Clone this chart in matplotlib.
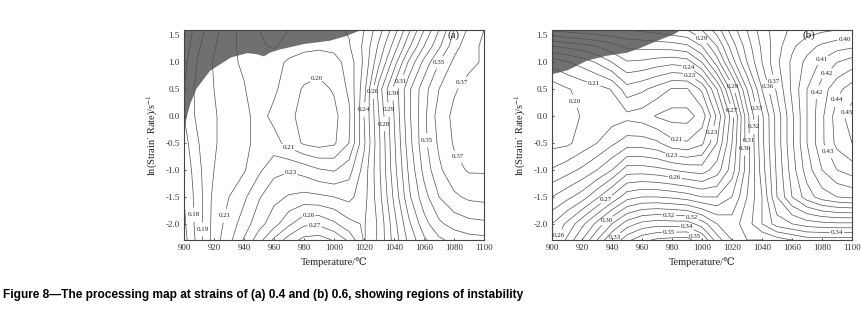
import matplotlib
matplotlib.use("Agg")
import matplotlib.pyplot as plt
import numpy as np

# grid (efficiency values)
temps = [900, 910, 920, 930, 940, 950, 960, 970, 980, 990, 1000,
         1010, 1020, 1030, 1040, 1050, 1060, 1070, 1080, 1090, 1100]
rates = [-2.3, -2.0, -1.5, -1.0, -0.5, 0.0, 0.5, 1.0, 1.3, 1.6]

eff_a = [
    [.166, .185, .205, .217, .231, .246, .262, .275, .283, .285, .279, .268, .249, .262, .284, .303, .318, .328, .333, .336, .337],
    [.168, .186, .204, .214, .225, .236, .246, .258, .268, .268, .262, .253, .249, .262, .286, .308, .326, .338, .344, .347, .348],
    [.170, .186, .203, .210, .218, .229, .237, .241, .243, .242, .240, .237, .246, .266, .292, .318, .336, .350, .358, .362, .363],
    [.172, .188, .200, .205, .209, .218, .227, .229, .226, .221, .219, .226, .244, .268, .296, .322, .343, .358, .367, .371, .371],
    [.176, .190, .199, .204, .206, .215, .214, .206, .1985, .196, .1985, .210, .238, .268, .298, .326, .347, .362, .371, .376, .377],
    [.180, .194, .199, .204, .207, .214, .207, .202, .197, .195, .197, .208, .240, .270, .300, .328, .347, .365, .372, .375, .375],
    [.180, .195, .200, .204, .209, .218, .212, .204, .199, .197, .201, .212, .236, .275, .303, .328, .346, .360, .369, .373, .374],
    [.177, .192, .201, .207, .212, .218, .214, .208, .205, .204, .206, .214, .232, .258, .285, .312, .333, .350, .362, .368, .371],
    [.174, .189, .199, .207, .213, .219, .221, .216, .213, .212, .213, .219, .232, .252, .274, .298, .320, .338, .356, .366, .372],
    [.172, .186, .197, .206, .214, .220, .222, .220, .218, .217, .218, .221, .230, .246, .265, .288, .310, .330, .350, .362, .370],
]

eff_b = [
    [.255, .272, .290, .310, .330, .347, .357, .362, .364, .365, .350, .325, .310, .310, .310, .315, .320, .325, .325, .325, .325],
    [.250, .262, .277, .293, .310, .325, .333, .336, .335, .335, .325, .310, .305, .315, .330, .345, .350, .355, .357, .358, .358],
    [.230, .237, .245, .258, .272, .286, .290, .290, .288, .285, .280, .280, .290, .310, .330, .360, .380, .395, .405, .410, .412],
    [.211, .216, .222, .230, .240, .255, .255, .253, .250, .247, .245, .255, .275, .305, .335, .362, .385, .405, .420, .430, .435],
    [.197, .198, .204, .210, .218, .225, .225, .222, .213, .211, .218, .240, .270, .305, .337, .364, .388, .410, .428, .443, .450],
    [.193, .197, .2005, .203, .205, .207, .205, .199, .196, .196, .204, .232, .265, .306, .338, .364, .388, .410, .428, .445, .455],
    [.194, .199, .203, .206, .2105, .226, .222, .216, .209, .209, .222, .250, .285, .320, .350, .372, .392, .410, .425, .437, .445],
    [.214, .219, .224, .231, .240, .249, .248, .245, .243, .245, .260, .285, .315, .340, .360, .378, .392, .403, .412, .420, .425],
    [.240, .243, .246, .250, .256, .262, .263, .264, .265, .268, .280, .300, .325, .345, .362, .376, .388, .396, .402, .406, .408],
    [.272, .274, .276, .278, .279, .280, .282, .284, .287, .290, .300, .315, .335, .350, .365, .375, .382, .386, .388, .390, .390],
]

# instability domains (lower edge of the shaded region)
unstable_a_temp = [900, 902, 904, 908, 917, 931, 942, 948, 953, 957, 964, 980, 997, 1008, 1017]
unstable_a_rate = [-0.22, 0.05, 0.25, 0.52, 0.85, 1.10, 1.18, 1.16, 1.12, 1.19, 1.25, 1.35, 1.41, 1.50, 1.60]
unstable_b_temp = [900, 910, 923, 936, 950, 959, 970, 981, 985]
unstable_b_rate = [0.79, 0.86, 1.04, 1.13, 1.19, 1.28, 1.41, 1.53, 1.60]

levels_a = np.round(np.arange(0.17, 0.375, 0.01), 2)
levels_b = np.round(np.arange(0.20, 0.455, 0.01), 2)

labels_a = [(988, 0.73), (970, -0.57), (972, -0.95), (983, -1.75), (987, -2.05),
            (906, -1.83), (915, -2.1), (924, -1.83), (1019, 0.12), (1025, 0.45),
            (1039, 0.42), (1045, 0.64), (1036, 0.12), (1032, -0.15), (1070, 1.0),
            (1060, -0.45), (1083, -0.75), (1097, 0.4)]
labels_b = [(1000, 1.45), (992, 0.95), (991, 0.73), (928, 0.62), (904, 0.17),
            (984, -0.33), (1005, -0.3), (980, -0.75), (982, -1.1), (935, -1.5),
            (978, -1.85), (993, -1.9), (937, -1.95), (990, -2.05), (903, -2.2),
            (942, -2.25), (978, -2.2), (995, -2.25), (1020, 0.55), (1020, 0.1),
            (1037, 0.15), (1035, -0.2), (1033, -0.45), (1030, -0.6), (1045, 0.55),
            (1050, 0.65), (1095, 1.5), (1080, 1.05), (1083, 0.8), (1075, 0.45),
            (1090, 0.3), (1095, 0.1), (1085, -0.65), (1090, -2.2)]

plt.rcParams['font.family'] = ['Liberation Serif', 'DejaVu Serif']
plt.rcParams['mathtext.fontset'] = 'stix'
plt.rcParams['axes.unicode_minus'] = False

fig = plt.figure(figsize=(8.62, 3.10), dpi=100)
ax_a = fig.add_axes([184 / 862, 70 / 310, 300 / 862, 210 / 310])
ax_b = fig.add_axes([552 / 862, 70 / 310, 300 / 862, 210 / 310])


def draw_map(ax, eff, levels, gray_t, gray_r, label_pos, tag, tag_x):
    ax.fill_between(gray_t, gray_r, 1.6, color='#707070', lw=0, zorder=1)
    cs = ax.contour(temps, rates, eff, levels=levels, colors='#505050',
                    linewidths=0.5, zorder=2)
    ax.clabel(cs, fmt='%.2f', fontsize=5, manual=label_pos,
              inline=True, inline_spacing=1)
    for t in cs.labelTexts:
        t.set_rotation(0)
        t.set_color('#222222')
    ax.text(tag_x, 1.5, tag, fontsize=8, ha='center', va='center', color='#222222')

    ax.set_xlim(900, 1100)
    ax.set_ylim(-2.3, 1.6)
    ax.set_xticks(range(900, 1101, 20))
    yt = [-2.0, -1.5, -1.0, -0.5, 0.0, 0.5, 1.0, 1.5]
    ax.set_yticks(yt)
    ax.set_yticklabels(['%.1f' % v for v in yt])
    ax.tick_params(labelsize=6.5, length=1.5, width=0.6, direction='in',
                   colors='#333333', pad=3)
    for s in ax.spines.values():
        s.set_color('#444444')
        s.set_linewidth(0.8)
    ax.set_xlabel('Temperature/\u2103', fontsize=7.5, labelpad=4, color='#222222')
    ax.set_ylabel('ln(Strain\u02d9 Rate)/s$^{-1}$', fontsize=7.5, labelpad=4,
                  color='#222222')


draw_map(ax_a, eff_a, levels_a, unstable_a_temp, unstable_a_rate, labels_a, '(a)', 1080)
draw_map(ax_b, eff_b, levels_b, unstable_b_temp, unstable_b_rate, labels_b, '(b)', 1071)

fig.text(3 / 862, 15 / 310,
         'Figure 8\u2014The processing map at strains of (a) 0.4 and (b) 0.6, '
         'showing regions of instability',
         family='Liberation Sans', weight='bold', fontsize=8.6, va='center', ha='left')

fig.savefig('out.png', dpi=100)
